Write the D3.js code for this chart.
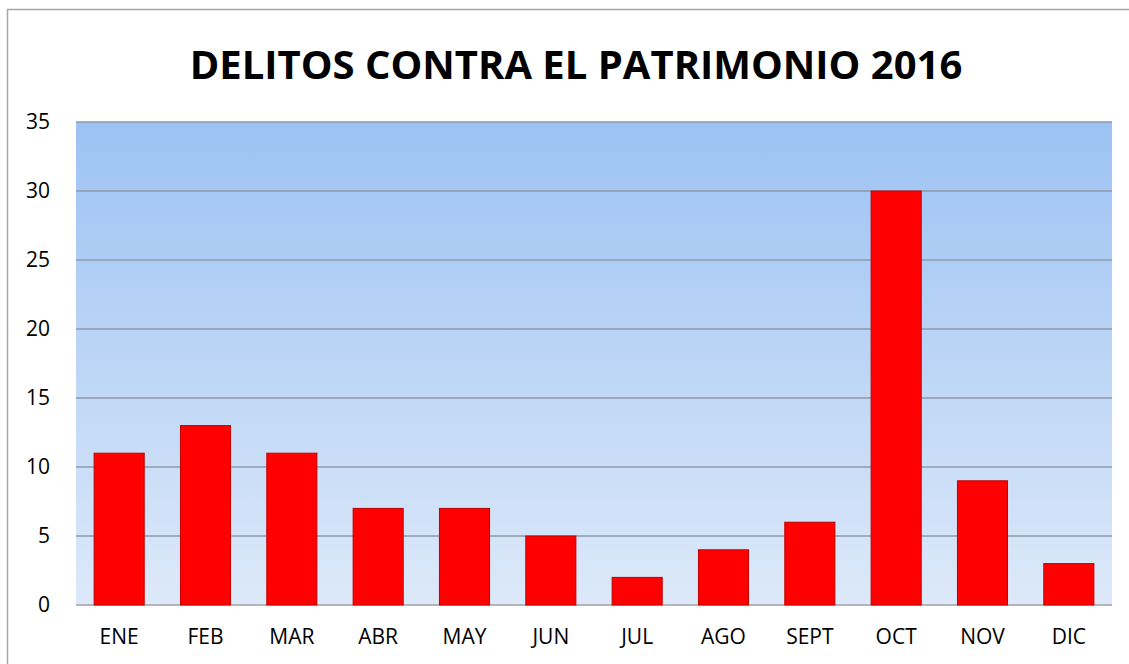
<!DOCTYPE html>
<html lang="es">
<head>
    <meta charset="UTF-8">
    <script src="https://d3js.org/d3.v7.min.js"></script>
    <title>Delitos contra el patrimonio 2016</title>
    <style>
        body { margin: 0; background: #fff; overflow: hidden; }
        svg { display: block; }
    </style>
</head>
<body>
    <div id="chart"></div>
    <script>
        // data
        let months = ["ENE", "FEB", "MAR", "ABR", "MAY", "JUN", "JUL", "AGO", "SEPT", "OCT", "NOV", "DIC"];
        let counts = [11, 13, 11, 7, 7, 5, 2, 4, 6, 30, 9, 3];
        let yTicks = [0, 5, 10, 15, 20, 25, 30, 35];
        let title = "DELITOS CONTRA EL PATRIMONIO 2016";

        let win_width = 1129, win_height = 664;
        let margin = {top: 122, right: 17, bottom: 59, left: 76};
        let graph_width = win_width - margin.left - margin.right;
        let graph_height = win_height - margin.top - margin.bottom;

        let svg = d3.select("#chart").append("svg")
            .attr("width", win_width)
            .attr("height", win_height);

        // outer chart border: only the top and left edges are inside the picture
        svg.append("path")
            .attr("d", "M7.5," + win_height + "V9.5H" + win_width)
            .attr("fill", "none")
            .attr("stroke", "#a6a6a6")
            .attr("stroke-width", 1.5);

        // plot background gradient
        let grad = svg.append("defs").append("linearGradient")
            .attr("id", "bg").attr("x1", 0).attr("y1", 0).attr("x2", 0).attr("y2", 1);
        grad.append("stop").attr("offset", "0%").attr("stop-color", "#9cc2f3");
        grad.append("stop").attr("offset", "100%").attr("stop-color", "#dde9f9");

        let g = svg.append("g")
            .attr("transform", "translate(" + margin.left + "," + margin.top + ")");

        g.append("rect")
            .attr("width", graph_width)
            .attr("height", graph_height)
            .attr("fill", "url(#bg)");

        let x = d3.scaleBand()
            .domain(months)
            .range([0, graph_width])
            .paddingInner(0.42)
            .paddingOuter(0.21);

        let y = d3.scaleLinear()
            .domain([0, 35])
            .range([graph_height, 0]);

        // gridlines
        g.selectAll(".grid")
            .data(yTicks)
            .enter()
            .append("line")
            .attr("x1", 0).attr("x2", graph_width)
            .attr("y1", function(d) { return y(d); })
            .attr("y2", function(d) { return y(d); })
            .attr("stroke", function(d) { return d === 0 ? "#a0a0a0" : "#8f9aa8"; })
            .attr("stroke-width", 1.5);

        // bars
        g.selectAll(".bar")
            .data(counts)
            .enter()
            .append("rect")
            .attr("x", function(d, i) { return x(months[i]); })
            .attr("y", function(d) { return y(d); })
            .attr("width", x.bandwidth())
            .attr("height", function(d) { return graph_height - y(d); })
            .attr("fill", "#ff0000")
            .attr("stroke", "#c00000")
            .attr("stroke-width", 1);

        // y axis
        let yAxis = g.append("g")
            .call(d3.axisLeft(y).tickValues(yTicks).tickSize(0).tickPadding(26));
        yAxis.select(".domain").remove();
        yAxis.selectAll("text")
            .style("font-family", "'Open Sans', sans-serif")
            .style("font-size", "21px")
            .attr("fill", "#000");

        // x axis
        let xAxis = g.append("g")
            .attr("transform", "translate(0," + graph_height + ")")
            .call(d3.axisBottom(x).tickSize(0).tickPadding(24));
        xAxis.select(".domain").remove();
        xAxis.selectAll("text")
            .style("font-family", "'Open Sans', sans-serif")
            .style("font-size", "21px")
            .attr("fill", "#000");

        // title
        svg.append("text")
            .attr("x", 576)
            .attr("y", 79)
            .attr("text-anchor", "middle")
            .style("font-family", "'Open Sans', sans-serif")
            .style("font-weight", "bold")
            .style("font-size", "40px")
            .text(title);
    </script>
</body>
</html>
